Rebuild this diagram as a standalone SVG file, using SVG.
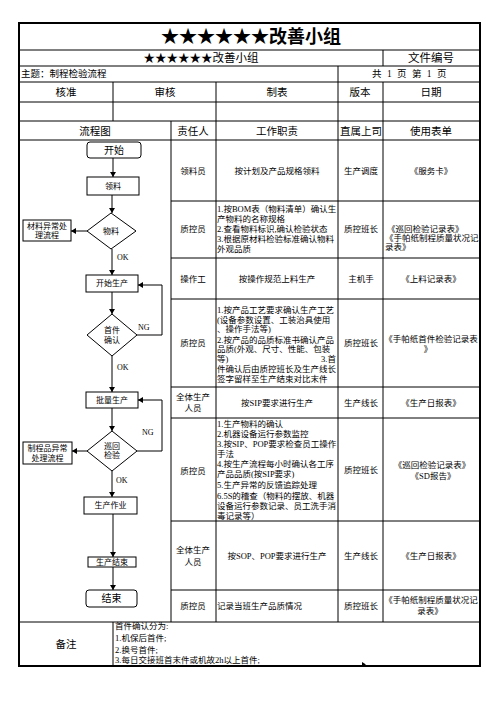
<svg xmlns="http://www.w3.org/2000/svg" width="496" height="702" viewBox="0 0 496 702">
<defs>
<style>
text{font-family:"Liberation Serif","Noto Sans CJK SC",serif;fill:#000}
.t{font-size:8.5px}
.c{text-anchor:middle;dominant-baseline:central}
.l{dominant-baseline:central}
.h{font-size:10.5px}
.g{stroke:#000;stroke-width:1;fill:none}
.n{fill:#fff;stroke:#000;stroke-width:1}
.fl{font-size:8px}
</style>
<marker id="ah" markerWidth="6" markerHeight="6" refX="5" refY="3" orient="auto" markerUnits="userSpaceOnUse">
<path d="M0,0 L5,3 L0,6 Z" fill="#000"/>
</marker>
</defs>
<rect width="496" height="702" fill="#fff"/>
<g id="table" class="g">
<path d="M19,50H480M19,66H480M19,82H480M19,102H480M19,121H480M19,140H480M171,201H480M171,258H480M171,299H480M171,387H480M171,418H480M171,521H480M171,590H480M19,622H480"/>
<path d="M383,50V66M383,82V622M338,66V622M113,82V121M113,622V666M216,82V622M171,121V622"/>
<rect x="19" y="23" width="461" height="643" stroke-width="2"/>
</g>
<g id="header">
<text x="251" y="37" class="c" style="font-size:18px;font-weight:bold">★★★★★★改善小组</text>
<text x="201" y="58" class="c" style="font-size:11.5px">★★★★★★改善小组</text>
<text x="431" y="58" class="c" style="font-size:11.5px">文件编号</text>
<text x="21" y="74" class="l" style="font-size:9.5px">主题：制程检验流程</text>
<text x="410" y="74" class="c" style="font-size:9.5px;letter-spacing:1.5px">共 1 页 第 1 页</text>
<text x="66" y="92" class="c h">核准</text>
<text x="165" y="92" class="c h">审核</text>
<text x="277" y="92" class="c h">制表</text>
<text x="360" y="92" class="c h">版本</text>
<text x="431" y="92" class="c h">日期</text>
<text x="95" y="131" class="c h">流程图</text>
<text x="193" y="131" class="c h">责任人</text>
<text x="277" y="131" class="c h">工作职责</text>
<text x="361" y="131" class="c h">直属上司</text>
<text x="431" y="131" class="c h">使用表单</text>
</g>
<g id="row1" class="t">
<text x="193" y="170.5" class="c">领料员</text>
<text x="277" y="170.5" class="c">按计划及产品规格领料</text>
<text x="361" y="170.5" class="c">生产调度</text>
<text x="431" y="170.5" class="c">《服务卡》</text>
</g>
<g id="row2" class="t">
<text x="193" y="229" class="c">质控员</text>
<text x="217" y="209" class="l">1.按BOM表（物料清单）确认生</text>
<text x="217" y="219" class="l">产物料的名称规格</text>
<text x="217" y="229" class="l">2.查看物料标识,确认检验状态</text>
<text x="217" y="239" class="l">3.根据原材料检验标准确认物料</text>
<text x="217" y="249" class="l">外观品质</text>
<text x="361" y="229" class="c">质控班长</text>
<text x="387" y="229" class="l">《巡回检验记录表》</text>
<text x="385" y="238" class="l">《手帕纸制程质量状况记</text>
<text x="385" y="247" class="l">录表》</text>
</g>
<g id="row3" class="t">
<text x="193" y="278.5" class="c">操作工</text>
<text x="277" y="278.5" class="c">按操作规范上料生产</text>
<text x="361" y="278.5" class="c">主机手</text>
<text x="431" y="278.5" class="c">《上料记录表》</text>
</g>
<g id="row4" class="t">
<text x="193" y="343" class="c">质控员</text>
<text x="217" y="310" class="l">1.按产品工艺要求确认生产工艺</text>
<text x="217" y="319.5" class="l">(设备参数设置、工装治具使用</text>
<text x="217" y="329" class="l">、操作手法等)</text>
<text x="217" y="339.5" class="l">2.按产品的品质标准书确认产品</text>
<text x="217" y="349" class="l">品质(外观、尺寸、性能、包装</text>
<text x="217" y="359" class="l"><tspan x="217">等)</tspan><tspan x="336" text-anchor="end">3.首</tspan></text>
<text x="217" y="369" class="l">件确认后由质控班长及生产线长</text>
<text x="217" y="378.5" class="l">签字留样至生产结束对比末件</text>
<text x="361" y="343" class="c">质控班长</text>
<text x="431" y="339" class="c">《手帕纸首件检验记录表</text>
<text x="428" y="349" class="c">》</text>
</g>
<g id="row5" class="t">
<text x="193" y="397" class="c">全体生产</text>
<text x="193" y="407.5" class="c">人员</text>
<text x="277" y="402.5" class="c">按SIP要求进行生产</text>
<text x="361" y="402.5" class="c">生产线长</text>
<text x="431" y="402.5" class="c">《生产日报表》</text>
</g>
<g id="row6" class="t">
<text x="193" y="471" class="c">质控员</text>
<text x="217" y="423.5" class="l">1.生产物料的确认</text>
<text x="217" y="434" class="l">2.机器设备运行参数监控</text>
<text x="217" y="444" class="l">3.按SIP、POP要求检查员工操作</text>
<text x="217" y="453.5" class="l">手法</text>
<text x="217" y="464" class="l">4.按生产流程每小时确认各工序</text>
<text x="217" y="473.5" class="l">产品品质(按SIP要求)</text>
<text x="217" y="485" class="l">5.生产异常的反馈追踪处理</text>
<text x="217" y="496" class="l">6.5S的稽查（物料的摆放、机器</text>
<text x="217" y="506" class="l">设备运行参数记录、员工洗手消</text>
<text x="217" y="516" class="l">毒记录等）</text>
<text x="361" y="470" class="c">质控班长</text>
<text x="432" y="465" class="c">《巡回检验记录表》</text>
<text x="433" y="475.5" class="c">《SD报告》</text>
</g>
<g id="row7" class="t">
<text x="193" y="550" class="c">全体生产</text>
<text x="193" y="562" class="c">人员</text>
<text x="277" y="556" class="c">按SOP、POP要求进行生产</text>
<text x="361" y="556" class="c">生产线长</text>
<text x="431" y="556" class="c">《生产日报表》</text>
</g>
<g id="row8" class="t">
<text x="193" y="606" class="c">质控员</text>
<text x="217" y="606" class="l">记录当班生产品质情况</text>
<text x="361" y="606" class="c">质控班长</text>
<text x="431" y="599.5" class="c">《手帕纸制程质量状况记</text>
<text x="430" y="611" class="c">录表》</text>
</g>
<g id="notes" class="t">
<text x="66" y="644" class="c" style="font-size:10.5px">备注</text>
<text x="115" y="626" class="l">首件确认分为:</text>
<text x="115" y="638" class="l">1.机保后首件;</text>
<text x="115" y="650" class="l">2.换号首件;</text>
<text x="115" y="659.5" class="l">3.每日交接班首末件或机故2h以上首件;</text>
</g>
<g id="connectors" class="g">
<path d="M113,158V177" marker-end="url(#ah)"/>
<path d="M112,195V213" marker-end="url(#ah)"/>
<path d="M87,231H71" marker-end="url(#ah)"/>
<path d="M112,249V275" marker-end="url(#ah)"/>
<path d="M112,292V314" marker-end="url(#ah)"/>
<path d="M137,335H162V285H138" marker-end="url(#ah)"/>
<path d="M112,356V392" marker-end="url(#ah)"/>
<path d="M112,408V431" marker-end="url(#ah)"/>
<path d="M137,451H162V400H138" marker-end="url(#ah)"/>
<path d="M87,451H72" marker-end="url(#ah)"/>
<path d="M112,471V497" marker-end="url(#ah)"/>
<path d="M113,514V557" marker-end="url(#ah)"/>
<path d="M113,567V590" marker-end="url(#ah)"/>
<text x="117" y="257" class="l fl" style="stroke:none">OK</text>
<text x="117" y="367" class="l fl" style="stroke:none">OK</text>
<text x="116" y="480" class="l fl" style="stroke:none">OK</text>
<text x="138" y="327" class="l fl" style="stroke:none">NG</text>
<text x="142" y="432" class="l fl" style="stroke:none">NG</text>
</g>
<g id="start"><rect x="87" y="142" width="54" height="16" rx="3" class="n"/><text x="114" y="150" class="c" style="font-size:10px">开始</text></g>
<g id="lingliao"><rect x="87" y="177" width="52" height="18" class="n"/><text x="113" y="186" class="c fl">领料</text></g>
<g id="wuliao"><polygon points="111,213 136,231 111,249 87,231" class="n"/><text x="111" y="231" class="c fl">物料</text></g>
<g id="cailiao"><rect x="23" y="220" width="48" height="21" class="n"/><text x="47" y="226" class="c fl">材料异常处</text><text x="47" y="235" class="c fl">理流程</text></g>
<g id="kaishi"><rect x="86" y="275" width="52" height="17" class="n"/><text x="112" y="283.5" class="c fl">开始生产</text></g>
<g id="shoujian"><polygon points="112,314 137,335 112,356 87,335" class="n"/><text x="112" y="330" class="c fl">首件</text><text x="112" y="340" class="c fl">确认</text></g>
<g id="piliang"><rect x="86" y="392" width="52" height="16" class="n"/><text x="112" y="400" class="c fl">批量生产</text></g>
<g id="xunhui"><polygon points="112,431 137,451 112,471 87,451" class="n"/><text x="112" y="446" class="c fl">巡回</text><text x="112" y="455" class="c fl">检验</text></g>
<g id="zhichengpin"><rect x="23" y="442" width="49" height="22" class="n"/><text x="47.5" y="448" class="c fl">制程品异常</text><text x="47.5" y="458" class="c fl">处理流程</text></g>
<g id="zuoye"><rect x="84" y="497" width="53" height="17" class="n"/><text x="110.5" y="505.5" class="c fl">生产作业</text></g>
<g id="jieshu1"><rect x="88" y="557" width="48" height="10" class="n"/><text x="112" y="562" class="c fl">生产结束</text></g>
<g id="end"><rect x="86" y="590" width="51" height="17" rx="3" class="n"/><text x="111.5" y="598.5" class="c" style="font-size:10px">结束</text></g>
<polygon points="362,662 366,664.5 362,666" fill="#000"/>
</svg>
